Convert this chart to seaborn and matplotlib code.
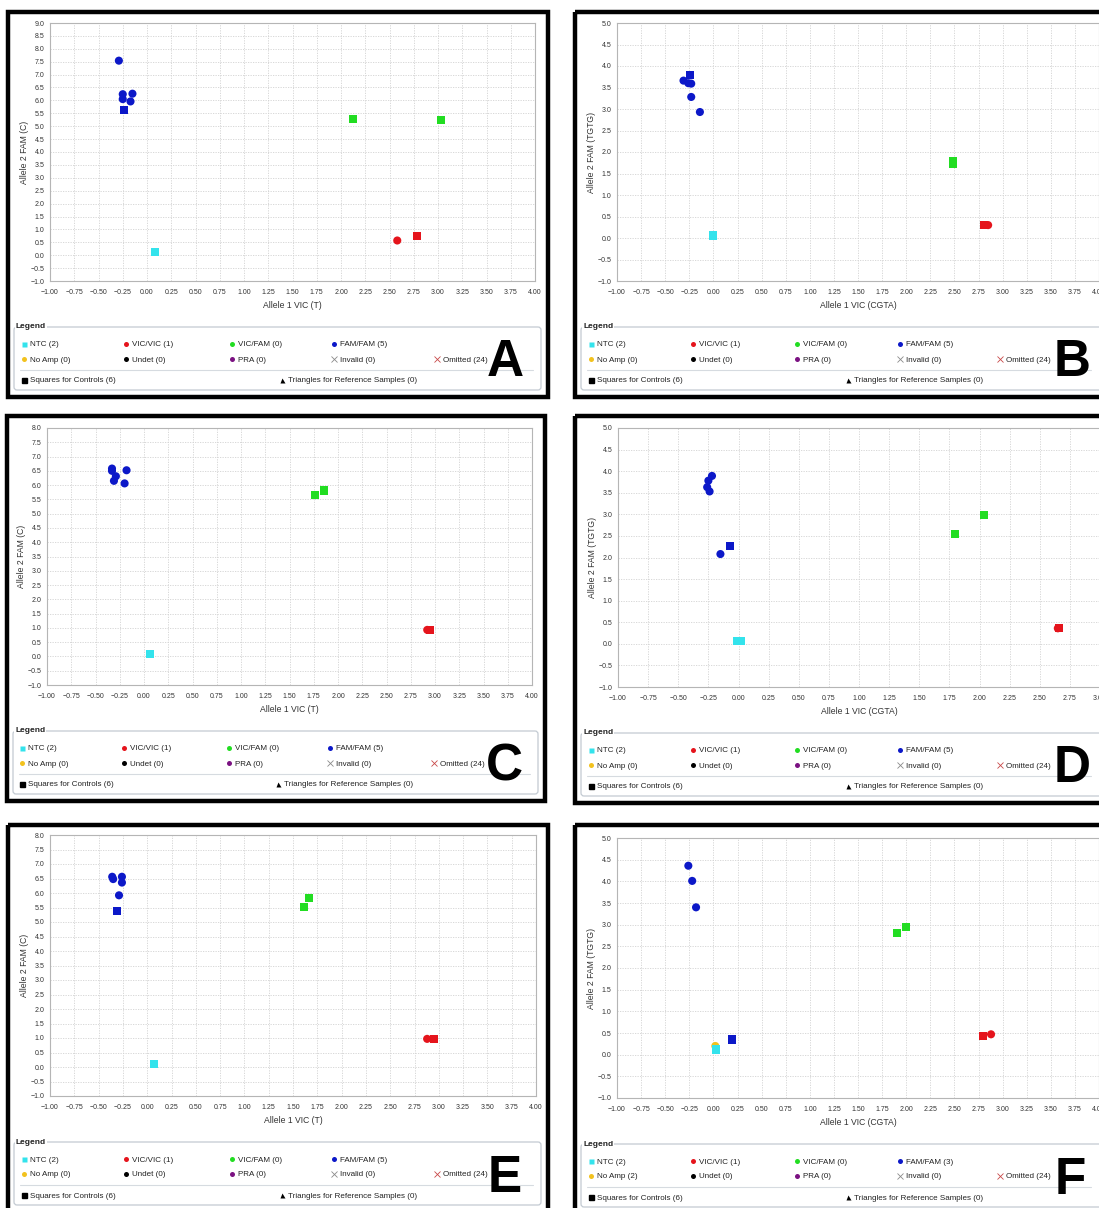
import matplotlib
matplotlib.use('Agg')
import matplotlib.pyplot as plt
import numpy as np
import pandas as pd
import seaborn as sns
from matplotlib.patches import Rectangle, FancyBboxPatch

# ---- data ----
# panel A
a_vic = [-0.29, -0.25, -0.25, -0.15, -0.17, -0.24, 2.12, 3.03, 2.58, 2.78, 0.08]
a_fam = [7.54, 6.24, 6.05, 6.26, 5.96, 5.62, 5.27, 5.25, 0.57, 0.76, 0.11]
a_call = ['FAM/FAM', 'FAM/FAM', 'FAM/FAM', 'FAM/FAM', 'FAM/FAM', 'FAM/FAM',
          'VIC/FAM', 'VIC/FAM', 'VIC/VIC', 'VIC/VIC', 'NTC']
a_kind = ['sample', 'sample', 'sample', 'sample', 'sample', 'control',
          'control', 'control', 'sample', 'control', 'control']
a_counts = [2, 1, 0, 5, 0, 0, 0, 0, 24, 6, 0]

# panel B
b_vic = [-0.31, -0.26, -0.23, -0.23, -0.14, -0.24, 2.49, 2.49, 2.81, 2.85, 0.0, 0.0]
b_fam = [3.66, 3.60, 3.59, 3.28, 2.93, 3.79, 1.79, 1.73, 0.30, 0.30, 0.06, 0.05]
b_call = ['FAM/FAM', 'FAM/FAM', 'FAM/FAM', 'FAM/FAM', 'FAM/FAM', 'FAM/FAM',
          'VIC/FAM', 'VIC/FAM', 'VIC/VIC', 'VIC/VIC', 'NTC', 'NTC']
b_kind = ['sample', 'sample', 'sample', 'sample', 'sample', 'control',
          'control', 'control', 'control', 'sample', 'control', 'control']
b_counts = [2, 1, 0, 5, 0, 0, 0, 0, 24, 6, 0]

# panel C
c_vic = [-0.33, -0.33, -0.29, -0.31, -0.18, -0.20, 1.76, 1.86, 2.92, 2.95, 0.06]
c_fam = [6.58, 6.50, 6.31, 6.15, 6.52, 6.06, 5.65, 5.81, 0.93, 0.92, 0.08]
c_call = ['FAM/FAM', 'FAM/FAM', 'FAM/FAM', 'FAM/FAM', 'FAM/FAM', 'FAM/FAM',
          'VIC/FAM', 'VIC/FAM', 'VIC/VIC', 'VIC/VIC', 'NTC']
c_kind = ['sample', 'sample', 'sample', 'sample', 'sample', 'sample',
          'control', 'control', 'sample', 'control', 'control']
c_counts = [2, 1, 0, 5, 0, 0, 0, 0, 24, 6, 0]

# panel D
d_vic = [-0.22, -0.25, -0.26, -0.24, -0.15, -0.07, 1.80, 2.04, 2.65, 2.66, -0.01, 0.02]
d_fam = [3.89, 3.78, 3.63, 3.53, 2.08, 2.26, 2.54, 2.98, 0.36, 0.37, 0.06, 0.06]
d_call = ['FAM/FAM', 'FAM/FAM', 'FAM/FAM', 'FAM/FAM', 'FAM/FAM', 'FAM/FAM',
          'VIC/FAM', 'VIC/FAM', 'VIC/VIC', 'VIC/VIC', 'NTC', 'NTC']
d_kind = ['sample', 'sample', 'sample', 'sample', 'sample', 'control',
          'control', 'control', 'sample', 'control', 'control', 'control']
d_counts = [2, 1, 0, 5, 0, 0, 0, 0, 24, 6, 0]

# panel E
e_vic = [-0.36, -0.35, -0.26, -0.26, -0.29, -0.31, 1.61, 1.66, 2.88, 2.95, 0.07]
e_fam = [6.56, 6.48, 6.56, 6.36, 5.92, 5.39, 5.53, 5.83, 0.97, 0.98, 0.11]
e_call = ['FAM/FAM', 'FAM/FAM', 'FAM/FAM', 'FAM/FAM', 'FAM/FAM', 'FAM/FAM',
          'VIC/FAM', 'VIC/FAM', 'VIC/VIC', 'VIC/VIC', 'NTC']
e_kind = ['sample', 'sample', 'sample', 'sample', 'sample', 'control',
          'control', 'control', 'sample', 'control', 'control']
e_counts = [2, 1, 0, 5, 0, 0, 0, 0, 24, 6, 0]

# panel F
f_vic = [-0.26, -0.22, -0.18, 0.19, 1.90, 2.00, 2.80, 2.88, 0.02, 0.03]
f_fam = [4.36, 4.01, 3.40, 0.35, 2.81, 2.95, 0.43, 0.47, 0.20, 0.12]
f_call = ['FAM/FAM', 'FAM/FAM', 'FAM/FAM', 'FAM/FAM', 'VIC/FAM', 'VIC/FAM',
          'VIC/VIC', 'VIC/VIC', 'No Amp', 'NTC']
f_kind = ['sample', 'sample', 'sample', 'control', 'control', 'control',
          'control', 'sample', 'sample', 'control']
f_counts = [2, 1, 0, 3, 2, 0, 0, 0, 24, 6, 0]

legend_row1 = ['NTC', 'VIC/VIC', 'VIC/FAM', 'FAM/FAM']
legend_row2 = ['No Amp', 'Undet', 'PRA', 'Invalid', 'Omitted']
legend_row3 = ['Squares for Controls', 'Triangles for Reference Samples']

call_colors = {'NTC': '#33e3ec', 'VIC/VIC': '#e5141c', 'VIC/FAM': '#22dd22',
               'FAM/FAM': '#0c18c8', 'No Amp': '#f2c21e', 'Undet': '#000000',
               'PRA': '#7b1282'}

# ---- layout (pixel coordinates of the original figure) ----
panels = [
    dict(letter='A', data=(a_vic, a_fam, a_call, a_kind), counts=a_counts,
         xmax=4.0, ymax=9.0, xlab='Allele 1 VIC (T)', ylab='Allele 2 FAM (C)',
         border=(8, 12, 548, 397), axes=(50, 23, 535, 281),
         legend=(14, 541, 327), cols=[24, 126, 232, 334, 437], tri=282, lx=505),
    dict(letter='B', data=(b_vic, b_fam, b_call, b_kind), counts=b_counts,
         xmax=4.0, ymax=5.0, xlab='Allele 1 VIC (CGTA)', ylab='Allele 2 FAM (TGTG)',
         border=(575, 12, 1105, 397), axes=(617, 23, 1099, 281),
         legend=(581, 1110, 327), cols=[591, 693, 797, 900, 1000], tri=848, lx=1072),
    dict(letter='C', data=(c_vic, c_fam, c_call, c_kind), counts=c_counts,
         xmax=4.0, ymax=8.0, xlab='Allele 1 VIC (T)', ylab='Allele 2 FAM (C)',
         border=(7, 416, 545, 801), axes=(47, 428, 532, 685),
         legend=(13, 538, 731), cols=[22, 124, 229, 330, 434], tri=278, lx=504),
    dict(letter='D', data=(d_vic, d_fam, d_call, d_kind), counts=d_counts,
         xmax=3.0, ymax=5.0, xlab='Allele 1 VIC (CGTA)', ylab='Allele 2 FAM (TGTG)',
         border=(575, 416, 1105, 803), axes=(618, 428, 1100, 687),
         legend=(581, 1110, 733), cols=[591, 693, 797, 900, 1000], tri=848, lx=1072),
    dict(letter='E', data=(e_vic, e_fam, e_call, e_kind), counts=e_counts,
         xmax=4.0, ymax=8.0, xlab='Allele 1 VIC (T)', ylab='Allele 2 FAM (C)',
         border=(8, 825, 548, 1215), axes=(50, 835, 536, 1096),
         legend=(14, 541, 1142), cols=[24, 126, 232, 334, 437], tri=282, lx=505),
    dict(letter='F', data=(f_vic, f_fam, f_call, f_kind), counts=f_counts,
         xmax=4.0, ymax=5.0, xlab='Allele 1 VIC (CGTA)', ylab='Allele 2 FAM (TGTG)',
         border=(575, 825, 1105, 1215), axes=(617, 838, 1099, 1098),
         legend=(581, 1110, 1144), cols=[591, 693, 797, 900, 1000], tri=848, lx=1070),
]

sns.set_style('white')
plt.rcParams['font.family'] = ['Liberation Sans', 'DejaVu Sans']

W, H = 1099, 1208
fig = plt.figure(figsize=(W / 100, H / 100), dpi=100)
bg = fig.add_axes([0, 0, 1, 1])
bg.set_xlim(0, W)
bg.set_ylim(H, 0)
bg.axis('off')

TXT = '#222222'
LEG_FS = 5.8

for p in panels:
    # black frame around the panel
    l, t, r, b = p['border']
    bg.add_patch(Rectangle((l, t), r - l, b - t, fill=False, ec='black', lw=3.2))

    # scatter plot
    al, at, ar, ab = p['axes']
    aw, ah = ar - al, ab - at
    ax = fig.add_axes([al / W, 1 - ab / H, aw / W, ah / H])
    vic, fam, call, kind = p['data']
    df = pd.DataFrame({'vic': vic, 'fam': fam, 'call': call, 'kind': kind})
    sns.scatterplot(data=df, x='vic', y='fam', hue='call', style='kind',
                    palette=call_colors, markers={'sample': 'o', 'control': 's'},
                    s=34, edgecolor='none', legend=False, ax=ax, zorder=3)
    ax.set_xlim(-1, p['xmax'])
    ax.set_ylim(-1, p['ymax'])
    ax.set_xticks(np.arange(-1, p['xmax'] + 0.01, 0.25))
    ax.set_yticks(np.arange(-1, p['ymax'] + 0.01, 0.5))
    ax.xaxis.set_major_formatter('{x:.2f}')
    ax.yaxis.set_major_formatter('{x:.1f}')
    ax.grid(True, color='#d2d2d2', linestyle=(0, (1.5, 1.5)), linewidth=0.6)
    ax.tick_params(labelsize=5, colors='#333333', length=2.2, width=0.5, pad=3.5)
    ax.tick_params(axis='y', pad=2)
    for sp in ax.spines.values():
        sp.set_color('#b5b5b5')
        sp.set_linewidth(0.8)
    ax.set_xlabel(p['xlab'], fontsize=6.2, color='#333333')
    ax.set_ylabel(p['ylab'], fontsize=6.2, color='#333333')
    ax.xaxis.set_label_coords(0.5, -20 / ah)
    ax.yaxis.set_label_coords(-21 / aw, 0.5)

    # legend box under the plot
    x0, x1, top = p['legend']
    bg.add_patch(FancyBboxPatch((x0, top), x1 - x0, 63,
                                boxstyle='round,pad=0,rounding_size=3',
                                fill=False, ec='#c3cad2', lw=0.9))
    bg.text(x0 + 2, top, 'Legend', fontsize=6, fontweight='bold', color=TXT,
            ha='left', va='center', bbox=dict(fc='white', ec='none', pad=0.6))
    bg.plot([x0 + 6, min(x1, W) - 8], [top + 43, top + 43], color='#d6dbe0', lw=0.8)

    cols = p['cols']
    cnt = p['counts']
    y1, y2, y3 = top + 18, top + 33, top + 54
    dy = -0.8  # nudge the small legend symbols onto the text line
    for i, name in enumerate(legend_row1):
        mk = 's' if name == 'NTC' else 'o'
        bg.plot(cols[i], y1 + dy, marker=mk, ms=3.6, color=call_colors[name], mec='none')
        bg.text(cols[i] + 6, y1, f'{name} ({cnt[i]})', fontsize=LEG_FS, color=TXT,
                ha='left', va='center')
    for i, name in enumerate(legend_row2):
        if name == 'Invalid':
            bg.plot(cols[i], y2 + dy, marker='x', ms=4.5, mew=0.6, color='#8a8a8a')
        elif name == 'Omitted':
            bg.plot(cols[i], y2 + dy, marker='x', ms=4.5, mew=0.6, color='#c84848')
        else:
            bg.plot(cols[i], y2 + dy, marker='o', ms=3.6, color=call_colors[name], mec='none')
        bg.text(cols[i] + 6, y2, f'{name} ({cnt[4 + i]})', fontsize=LEG_FS, color=TXT,
                ha='left', va='center')
    bg.plot(cols[0], y3 + dy, marker='s', ms=3.6, color='black')
    bg.text(cols[0] + 6, y3, f'{legend_row3[0]} ({cnt[9]})', fontsize=LEG_FS,
            color=TXT, ha='left', va='center')
    bg.plot(p['tri'], y3 + dy, marker='^', ms=3.6, color='black', mec='none')
    bg.text(p['tri'] + 6, y3, f'{legend_row3[1]} ({cnt[10]})', fontsize=LEG_FS,
            color=TXT, ha='left', va='center')

    # panel letter
    bg.text(p['lx'], top + 36, p['letter'], fontsize=37, fontweight='bold',
            color='black', ha='center', va='center')

fig.savefig('out.png', dpi=100)
